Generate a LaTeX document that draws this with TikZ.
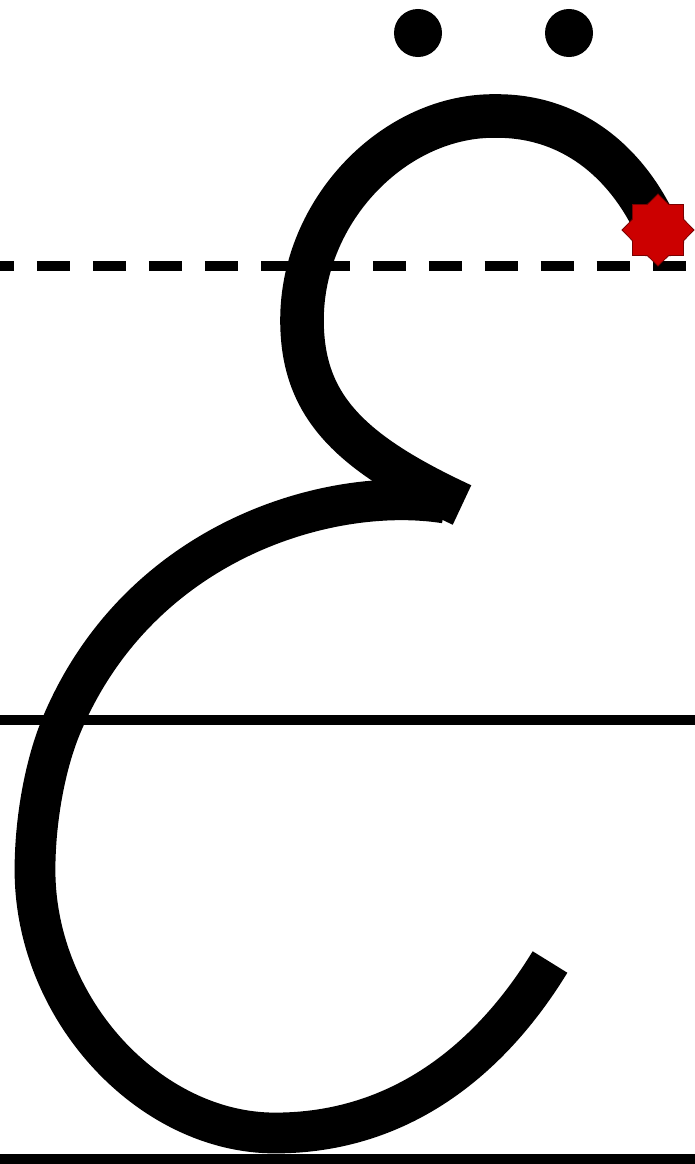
\documentclass[tikz,border=0pt]{standalone}
\usepackage{xcolor}
\usepackage{tikz}
\usetikzlibrary{shapes.geometric}
\definecolor{StarRed}{HTML}{CC0000}
\definecolor{StarEdge}{HTML}{7A0000}

\begin{document}
\begin{tikzpicture}[
    x=0.025cm, y=-0.025cm,
    letterstroke/.style={draw=black, line width=29pt, line cap=butt, line join=round},
    guide/.style={draw=black, line width=7pt},
    dashguide/.style={guide, dash pattern=on 23.5pt off 16.3pt, dash phase=13.5pt},
    dotmark/.style={circle, fill=black, minimum size=1.2cm, inner sep=0pt},
    startmark/.style={star, star points=8, star point ratio=1.3, fill=StarRed, draw=StarEdge, line width=0.6pt, minimum size=1.8cm, inner sep=0pt}
]
\useasboundingbox[fill=white] (0,0) rectangle (695,1164);

% Guide lines
\coordinate (dashL) at (0,266);
\coordinate (dashR) at (695,266);
\coordinate (midL) at (0,720);
\coordinate (midR) at (695,720);
\coordinate (baseL) at (0,1159);
\coordinate (baseR) at (695,1159);
\draw[dashguide] (dashL) -- (dashR);
\draw[guide] (midL) -- (midR);
\draw[guide] (baseL) -- (baseR);

% Upper loop: start mark over the top and down to the cusp
\coordinate (loopStart) at (656,226);
\coordinate (loopTop) at (497,116);
\coordinate (loopLeft) at (302,320);
\coordinate (cusp) at (462,505);
\draw[letterstroke, line width=31pt] (loopStart) .. controls (625,160) and (570,116) .. (loopTop)
    .. controls (395,114) and (302,210) .. (loopLeft)
    .. controls (302,405) and (348,452) .. (cusp);

% Lower bowl: from the cusp round to the bottom
\coordinate (bowlStart) at (445,503);
\coordinate (bowlMid) at (62,724);
\coordinate (bowlLeft) at (35,870);
\coordinate (bowlBottom) at (275,1133);
\coordinate (bowlEnd) at (550,962);
\draw[letterstroke] (bowlStart) .. controls (330,485) and (140,540) .. (bowlMid)
    .. controls (45,764) and (35,820) .. (bowlLeft)
    .. controls (35,1010) and (150,1133) .. (bowlBottom)
    .. controls (400,1133) and (490,1060) .. (bowlEnd);

% Dots
\node[dotmark] (dotL) at (418,33) {};
\node[dotmark] (dotR) at (569,33) {};

% Start mark
\node[startmark] (start) at (658,230) {};

\end{tikzpicture}
\end{document}
